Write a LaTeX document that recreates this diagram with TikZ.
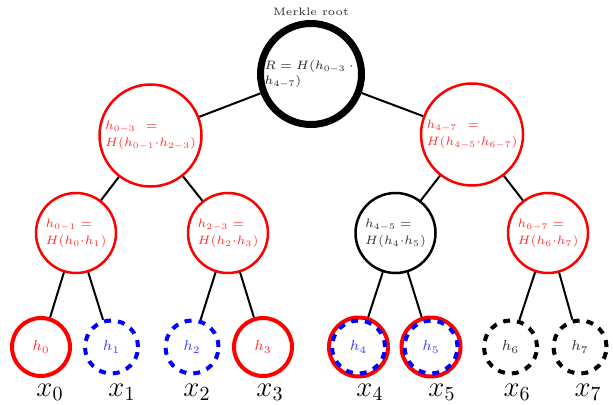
\RequirePackage{fix-cm}
\documentclass[tikz,border=0pt]{standalone}
\begin{document}
\begin{tikzpicture}[x=0.5pt,y=-0.5pt,
  hn/.style={circle, inner sep=0pt, align=left, font=\fontsize{6.1}{8.3}\selectfont},
  rednode/.style={hn, draw=red, text=red!80, line width=1.25pt, minimum size=#1},
  blknode/.style={hn, draw=black, text=black!80, line width=1.25pt, minimum size=#1},
  leaffont/.style={font=\fontsize{7.2}{8}\selectfont},
  leafred/.style={hn, leaffont, draw=red, text=red!80, line width=2pt, minimum size=58pt*0.5},
  leafblue/.style={hn, leaffont, draw=blue, text=blue!75, line width=2pt, dash pattern=on 3.5pt off 3.5pt, minimum size=53pt*0.5},
  leafblk/.style={hn, leaffont, draw=black, text=black!80, line width=2pt, dash pattern=on 3.5pt off 3.5pt, minimum size=53pt*0.5},
  edge/.style={draw=black, line width=1pt},
  xlab/.style={font=\Large, inner sep=0pt}]
\useasboundingbox (0,0) rectangle (613,405);
% root
\node[hn, draw=black, text=black!85, line width=3.5pt, minimum size=50.5pt,
      font=\fontsize{6.1}{7.6}\selectfont] (root) at (311,74)
  {$R = H(h_{0-3}\mathbin{\cdot}{}$\\$h_{4-7})$};
\node[font=\fontsize{5.4}{6}\selectfont, text=black!85, inner sep=0pt] (rootlab) at (311,12) {Merkle root};
% level 1
\node[rednode=51pt] (a) at (150.5,135.5) {$h_{0-3}\kern3pt =$\\$H(h_{0-1}{\cdot}h_{2-3})$};
\node[rednode=51pt] (b) at (472,134.5) {$h_{4-7}\kern3pt =$\\$H(h_{4-5}{\cdot}h_{6-7})$};
% level 2
\node[rednode=40pt] (a1) at (76,233) {$h_{0-1} =$\\$H(h_0{\cdot}h_1)$};
\node[rednode=40pt] (a2) at (228,233) {$h_{2-3} =$\\$H(h_2{\cdot}h_3)$};
\node[blknode=40pt] (b1) at (395.5,233) {$h_{4-5} =$\\$H(h_4{\cdot}h_5)$};
\node[rednode=40pt] (b2) at (548,233) {$h_{6-7} =$\\$H(h_6{\cdot}h_7)$};
% leaves
\node[leafred] (l0) at (41,347) {$h_0$};
\node[leafblue] (l1) at (111.5,347) {$h_1$};
\node[leafblue] (l2) at (192,347) {$h_2$};
\node[leafred] (l3) at (263,347) {$h_3$};
\node[hn, draw=red, line width=2pt, minimum size=59pt*0.5] (l4r) at (358.5,347) {};
\node[hn, draw=red, line width=2pt, minimum size=59pt*0.5] (l5r) at (431,347) {};
\node[leafblue] (l4) at (358.5,347) {$h_4$};
\node[leafblue] (l5) at (431,347) {$h_5$};
\node[leafblk] (l6) at (510.5,347) {$h_6$};
\node[leafblk] (l7) at (580,347) {$h_7$};
% labels
\node[xlab] (x0) at (50,392) {$x_0$};
\node[xlab] (x1) at (122,392) {$x_1$};
\node[xlab] (x2) at (197,392) {$x_2$};
\node[xlab] (x3) at (270,392) {$x_3$};
\node[xlab] (x4) at (370,392) {$x_4$};
\node[xlab] (x5) at (442,392) {$x_5$};
\node[xlab] (x6) at (517,392) {$x_6$};
\node[xlab] (x7) at (588,392) {$x_7$};
% edges
\draw[edge] (root) -- (a);
\draw[edge] (root) -- (b);
\draw[edge] (a) -- (a1);
\draw[edge] (a) -- (a2);
\draw[edge] (b) -- (b1);
\draw[edge] (b) -- (b2);
\draw[edge] (a1) -- (l0);
\draw[edge] (a1) -- (l1);
\draw[edge] (a2) -- (l2);
\draw[edge] (a2) -- (l3);
\draw[edge] (b1) -- (l4r);
\draw[edge] (b1) -- (l5r);
\draw[edge] (b2) -- (l6);
\draw[edge] (b2) -- (l7);
\end{tikzpicture}
\end{document}
